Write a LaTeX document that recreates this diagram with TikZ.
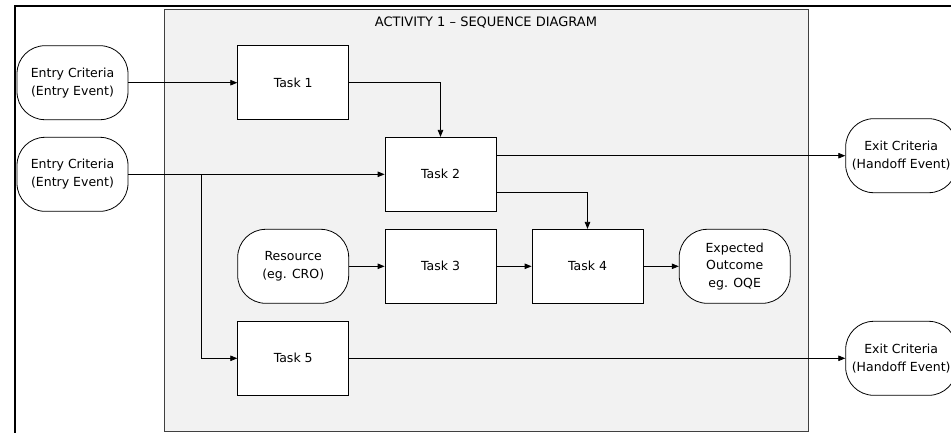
\documentclass[tikz,border=0pt]{standalone}
\usepackage{fontspec}
\setmainfont{DejaVu Sans}
\usetikzlibrary{arrows.meta,positioning}
\begin{document}
\begin{tikzpicture}[x=1pt,y=-1pt,
  every node/.style={font=\fontsize{12.5}{17.7}\selectfont, align=center, inner sep=0pt},
  taskbox/.style={draw=black, fill=white, line width=0.8pt, minimum width=111pt, minimum height=74pt},
  roundbox/.style={taskbox, rounded corners=28pt},
  conn/.style={line width=0.8pt, -{Triangle[length=7pt,width=5.5pt]}},
  plainline/.style={line width=0.8pt}
]
\useasboundingbox (0,0) rectangle (951,432);
\clip (0,0) rectangle (951,432);
% outer frame
\draw[line width=2pt] (15,6) rectangle (990,470);
% panel
\node[draw=black!75, fill=black!5, line width=0.8pt, minimum width=644pt, minimum height=422pt, anchor=north west] (panel) at (164.3,9.3) {};
\node[font=\fontsize{13}{16}\selectfont] (title) at (486,23) {ACTIVITY 1 – SEQUENCE DIAGRAM};
% nodes
\node[roundbox] (e1) at (72.5,82.7) {Entry Criteria\\(Entry Event)};
\node[roundbox] (e2) at (72.5,174.3) {Entry Criteria\\(Entry Event)};
\node[taskbox] (t1) at (293.2,82.7) {Task 1};
\node[taskbox] (t2) at (440.5,174.3) {Task 2};
\node[roundbox] (res) at (293.2,266.3) {Resource\\(eg. CRO)};
\node[taskbox] (t3) at (440.5,266.3) {Task 3};
\node[taskbox] (t4) at (587.5,266.3) {Task 4};
\node[roundbox] (out) at (734.7,266.3) {Expected\\Outcome\\eg. OQE};
\node[taskbox] (t5) at (293.2,358.3) {Task 5};
\node[roundbox] (x1) at (901.2,155.7) {Exit Criteria\\(Handoff Event)};
\node[roundbox] (x2) at (901.2,358.3) {Exit Criteria\\(Handoff Event)};
% connectors
\draw[conn] (e1) -- (t1);
\draw[conn] (t1) -| (t2);
\draw[conn] (e2) -- (t2);
\coordinate (br) at (201,174.3);
\draw[conn] (br) |- (t5);
\draw[conn] ([yshift=18.6pt]t2.east) -- (x1);
\draw[conn] ([yshift=-18.4pt]t2.east) -| (t4);
\draw[conn] (res) -- (t3);
\draw[conn] (t3) -- (t4);
\draw[conn] (t4) -- (out);
\draw[conn] (t5) -- (x2);
\end{tikzpicture}
\end{document}
